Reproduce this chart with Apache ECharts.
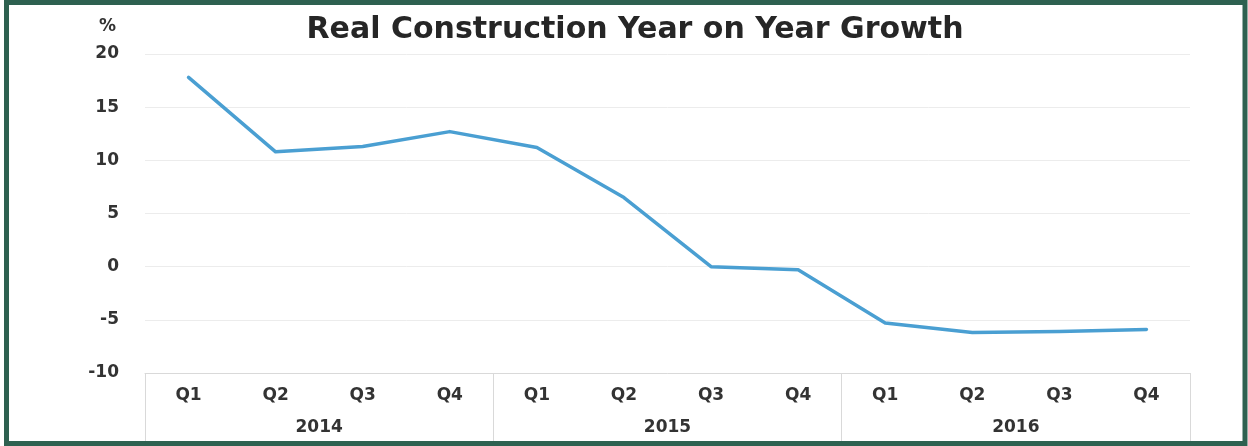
<!DOCTYPE html>
<html>
<head>
<meta charset="utf-8">
<script src="https://cdn.jsdelivr.net/npm/echarts@6/dist/echarts.min.js"></script>
<style>
html,body{margin:0;padding:0;background:#fff;}
#chart{width:1248px;height:446px;}
</style>
</head>
<body>
<div id="chart"></div>
<script>
// Data
const quarters = ['Q1','Q2','Q3','Q4','Q1','Q2','Q3','Q4','Q1','Q2','Q3','Q4'];
const years = ['2014','2015','2016'];
const growth = [17.8, 10.8, 11.3, 12.7, 11.2, 6.5, 0.0, -0.3, -5.3, -6.2, -6.1, -5.9];
const yTicks = [-10, -5, 0, 5, 10, 15, 20];
const titleText = 'Real Construction Year on Year Growth';
const unitText = '%';

const FONT = 'DejaVu Sans';
const chart = echarts.init(document.getElementById('chart'), null, {renderer: 'canvas'});
chart.setOption({
  animation: false,
  backgroundColor: '#ffffff',
  title: {
    text: titleText,
    left: 630,
    textAlign: 'center',
    top: 10,
    textStyle: {fontFamily: FONT, fontWeight: 'bold', fontSize: 30, color: '#262626'}
  },
  grid: {left: 145, right: 58, top: 54, bottom: 73, containLabel: false},
  xAxis: [
    {
      type: 'category',
      data: quarters,
      boundaryGap: true,
      axisLine: {show: true, onZero: false, lineStyle: {color: '#d9d9d9', width: 1}},
      axisTick: {show: false},
      axisLabel: {margin: 14, fontFamily: FONT, fontWeight: 'bold', fontSize: 17, color: '#333333'},
      splitLine: {show: false}
    },
    {
      type: 'category',
      data: years,
      position: 'bottom',
      boundaryGap: true,
      axisLine: {show: false, onZero: false},
      axisTick: {show: true, length: 68, lineStyle: {color: '#d9d9d9', width: 1}},
      axisLabel: {margin: 46, fontFamily: FONT, fontWeight: 'bold', fontSize: 17, color: '#333333'},
      splitLine: {show: false}
    }
  ],
  yAxis: {
    type: 'value',
    min: yTicks[0],
    max: yTicks[yTicks.length - 1],
    interval: 5,
    name: unitText,
    nameLocation: 'end',
    nameGap: 27,
    nameTextStyle: {fontFamily: FONT, fontWeight: 'bold', fontSize: 17, color: '#333333', align: 'right', verticalAlign: 'middle', padding: [0, 29, 0, 0]},
    axisLine: {show: false},
    axisTick: {show: false},
    axisLabel: {margin: 26, fontFamily: FONT, fontWeight: 'bold', fontSize: 17, color: '#333333'},
    splitLine: {show: true, lineStyle: {color: '#ececec', width: 1}}
  },
  series: [{
    type: 'line',
    xAxisIndex: 0,
    data: growth,
    showSymbol: false,
    symbol: 'none',
    smooth: false,
    lineStyle: {color: '#4a9fd2', width: 3.5, cap: 'round', join: 'round'},
    itemStyle: {color: '#4a9fd2'}
  }],
  graphic: [{
    type: 'rect',
    silent: true,
    z: 100,
    shape: {x: 6.5, y: 2.5, width: 1238.5, height: 441},
    style: {fill: 'none', stroke: '#2e6150', lineWidth: 5}
  }]
});
</script>
</body>
</html>
